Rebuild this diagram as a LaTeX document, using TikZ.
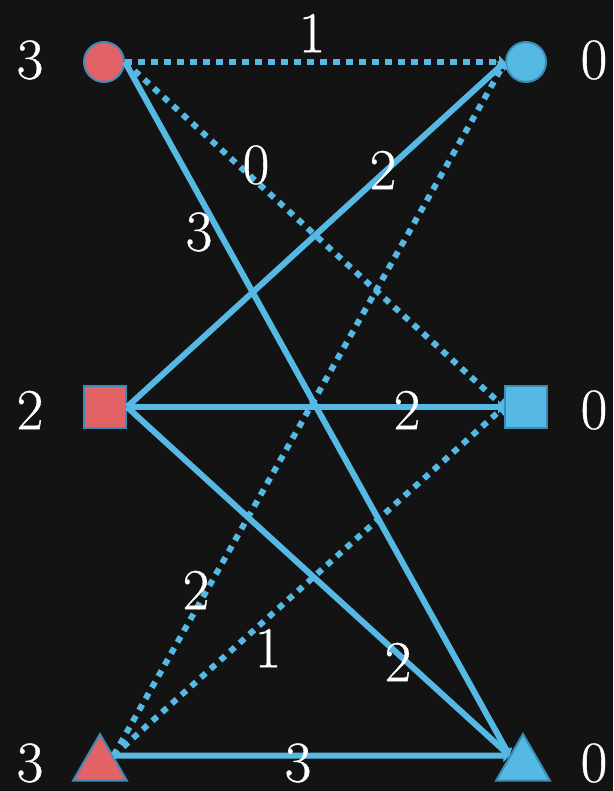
\documentclass[tikz,border=0pt]{standalone}
\usepackage{fontspec}
\setmainfont{Latin Modern Roman}[FakeBold=0.6]
\usetikzlibrary{arrows.meta,shapes.geometric}
\definecolor{board}{HTML}{131313}
\definecolor{redfill}{HTML}{E26366}
\definecolor{bluefill}{HTML}{56B9E3}
\definecolor{rim}{HTML}{3A8CB4}
\definecolor{edgeblue}{HTML}{56B9E3}
\tikzset{
  num/.style={text=white,font=\fontsize{58}{58}\selectfont,inner sep=0pt},
  vert/.style={draw=rim,line width=2pt,inner sep=0pt},
  link/.style={edgeblue,line width=6pt,-{Triangle[length=6pt,width=13pt]}},
  dotlink/.style={link,dash pattern=on 6.5pt off 6.5pt},
}
\begin{document}
\begin{tikzpicture}[x=1pt,y=-1pt]

\fill[board] (0,0) rectangle (613,791);

\node[vert,circle,fill=redfill,minimum size=40pt] (lc) at (104,62) {};
\node[vert,circle,fill=bluefill,minimum size=40pt] (rc) at (526,62) {};
\node[vert,rectangle,fill=redfill,minimum size=42pt] (ls) at (105,407) {};
\node[vert,rectangle,fill=bluefill,minimum size=42pt] (rs) at (526,407) {};
\node[vert,regular polygon,regular polygon sides=3,fill=redfill,minimum size=62pt] (lt) at (100,765) {};
\node[vert,regular polygon,regular polygon sides=3,fill=bluefill,minimum size=62pt] (rt) at (523,765) {};

\draw[dotlink] (lc.east) -- (rc.west);
\draw[dotlink] (lc.east) -- (rs.west);
\draw[link] (lc.east) -- (rt.145);
\draw[link] (ls.east) -- (rc.west);
\draw[link] (ls.east) -- (rs.west);
\draw[link] (ls.east) -- (rt.145);
\draw[dotlink] (lt.35) -- (rc.west);
\draw[dotlink] (lt.35) -- (rs.west);
\draw[link] (lt.35) -- (rt.145);

\node[num] (w1) at (312,33) {1};
\node[num] (w2) at (256,165) {0};
\node[num] (w3) at (199,232) {3};
\node[num] (w4) at (383,170) {2};
\node[num] (w5) at (407,410) {2};
\node[num] (w6) at (398,662) {2};
\node[num] (w7) at (196,590) {2};
\node[num] (w8) at (268,648) {1};
\node[num] (w9) at (298,763) {3};

\foreach \n/\y/\t in {a/60/3,b/410/2,c/763/3} \node[num] (l\n) at (30,\y) {\t};
\foreach \n/\y in {a/60,b/410,c/763} \node[num] (r\n) at (594,\y) {0};

\end{tikzpicture}
\end{document}
